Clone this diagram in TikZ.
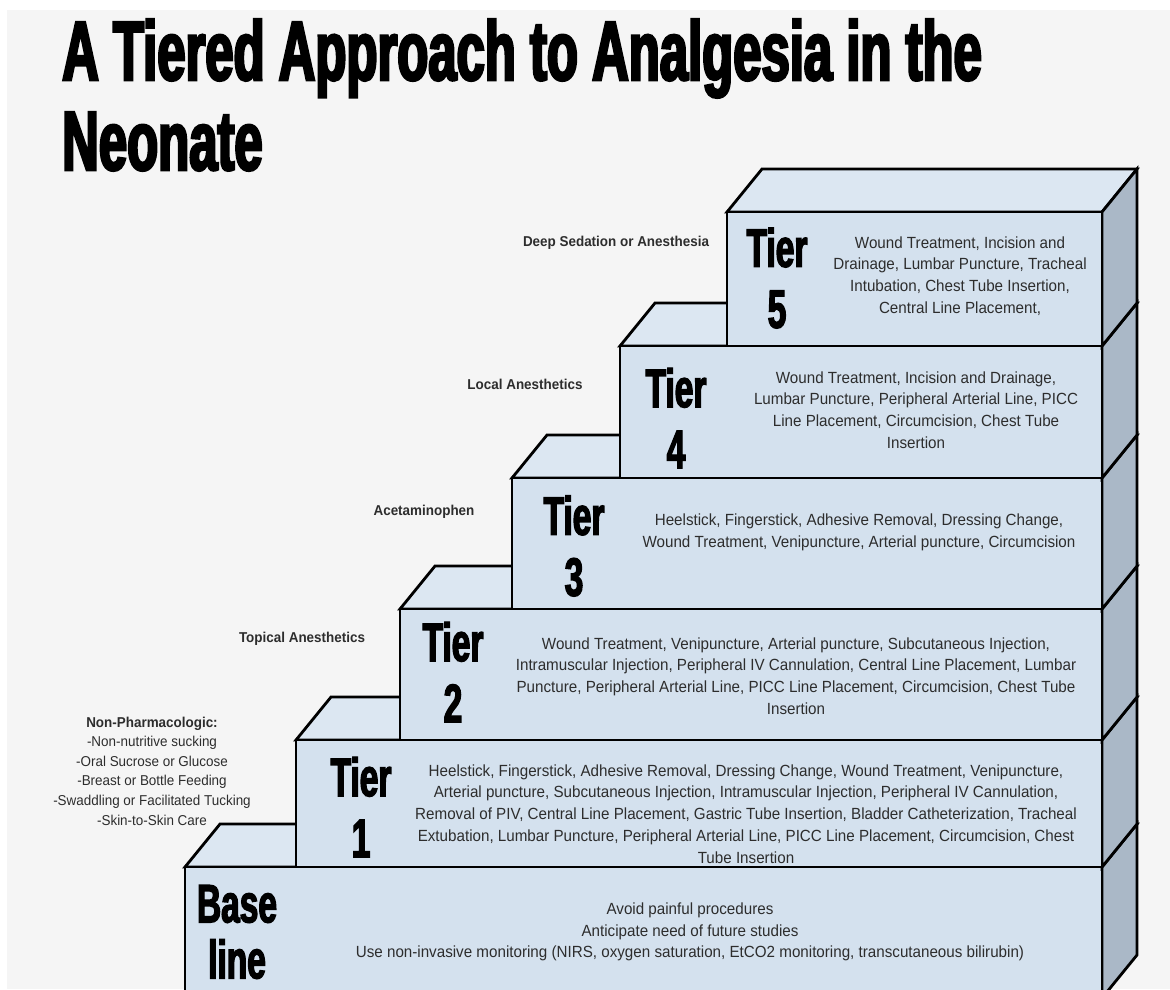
\documentclass[tikz,border=0pt]{standalone}
\usepackage{fontspec}
\setmainfont{Liberation Sans}
\newfontfamily\heavyfont[FakeStretch=0.62,BoldFeatures={FakeBold=2.5}]{Liberation Sans}
\newfontfamily\titlefont[FakeStretch=0.605,BoldFeatures={FakeBold=3}]{Liberation Sans}
\newfontfamily\bodyfont[FakeStretch=0.94]{Liberation Sans}
\definecolor{frontblue}{RGB}{212,225,238}
\definecolor{topblue}{RGB}{220,231,242}
\definecolor{sidegray}{RGB}{170,184,199}
\definecolor{bggray}{RGB}{245,245,245}
\definecolor{textgray}{RGB}{45,45,45}

\begin{document}
\begin{tikzpicture}[x=1pt,y=-1pt,
    blockline/.style={draw=black,line width=2.8pt},
    tiername/.style={font=\heavyfont\bfseries\fontsize{54}{61}\selectfont,align=center,inner sep=0pt},
    procs/.style={font=\bodyfont\fontsize{16.15}{21.8}\selectfont,text=textgray,align=center,inner sep=0pt},
    relief/.style={font=\bodyfont\fontsize{14.3}{19.6}\selectfont,text=textgray,align=center,inner sep=0pt}]
                \useasboundingbox (0,0) rectangle (1170,989);
                \clip (0,0) rectangle (1170,989);
                %background
                \fill[white] (0,0) rectangle (1170,989);
                \fill[bggray] (7,10) rectangle (1170,989);
                %title
                \node[anchor=base west,inner sep=0pt,font=\titlefont\bfseries\fontsize{84}{90}\selectfont]
                    (title) at (62,80) {A Tiered Approach to Analgesia in the};
                \node[anchor=base west,inner sep=0pt,font=\titlefont\bfseries\fontsize{84}{90}\selectfont]
                    (title2) at (62,170) {Neonate};
                %steps, lowest first
                \foreach \l/\t/\b in {185/867/998,296/740/867,400/609/740,512/478/609,620/346/478,727/212/346}{
                    \filldraw[blockline,fill=topblue] (\l,\t) -- ++(35,-43) -- (1137,{\t-43}) -- (1102,\t) -- cycle;
                    \filldraw[blockline,fill=sidegray] (1102,\t) -- (1137,{\t-43}) -- (1137,{\b-43}) -- (1102,\b) -- cycle;
                    \filldraw[blockline,fill=frontblue] (\l,\t) rectangle (1102,\b);
                }
                %tier names
                \node[tiername] (tier5) at (777,278) {Tier\\5};
                \node[tiername] (tier4) at (676,418) {Tier\\4};
                \node[tiername] (tier3) at (574,546) {Tier\\3};
                \node[tiername] (tier2) at (453,672) {Tier\\2};
                \node[tiername] (tier1) at (361,807) {Tier\\1};
                \node[tiername,font=\heavyfont\bfseries\fontsize{54}{56}\selectfont] (tier0) at (237,932) {Base\\line};
                %procedures
                \node[procs] (procs5) at (960,276) {Wound Treatment, Incision and\\Drainage, Lumbar Puncture, Tracheal\\Intubation, Chest Tube Insertion,\\Central Line Placement,};
                \node[procs] (procs4) at (916,410) {Wound Treatment, Incision and Drainage,\\Lumbar Puncture, Peripheral Arterial Line, PICC\\Line Placement, Circumcision, Chest Tube\\Insertion};
                \node[procs] (procs3) at (859,532) {Heelstick, Fingerstick, Adhesive Removal, Dressing Change,\\Wound Treatment, Venipuncture, Arterial puncture, Circumcision};
                \node[procs] (procs2) at (796,676) {Wound Treatment, Venipuncture, Arterial puncture, Subcutaneous Injection,\\Intramuscular Injection, Peripheral IV Cannulation, Central Line Placement, Lumbar\\Puncture, Peripheral Arterial Line, PICC Line Placement, Circumcision, Chest Tube\\Insertion};
                \node[procs] (procs1) at (746,814) {Heelstick, Fingerstick, Adhesive Removal, Dressing Change, Wound Treatment, Venipuncture,\\Arterial puncture, Subcutaneous Injection, Intramuscular Injection, Peripheral IV Cannulation,\\Removal of PIV, Central Line Placement, Gastric Tube Insertion, Bladder Catheterization, Tracheal\\Extubation, Lumbar Puncture, Peripheral Arterial Line, PICC Line Placement, Circumcision, Chest\\Tube Insertion};
                \node[procs] (procs0) at (690,932) {Avoid painful procedures\\Anticipate need of future studies\\Use non-invasive monitoring (NIRS, oxygen saturation, EtCO2 monitoring, transcutaneous bilirubin)};
                %relief methods
                \node[relief] (deep) at (616,243) {\bfseries Deep Sedation or Anesthesia};
                \node[relief] (local) at (525,384) {\bfseries Local Anesthetics};
                \node[relief] (acet) at (424,512) {\bfseries Acetaminophen};
                \node[relief] (topical) at (302,639) {\bfseries Topical Anesthetics};
                \node[relief] (nonpharm) at (152,771) {\textbf{Non-Pharmacologic:}\\-Non-nutritive sucking\\-Oral Sucrose or Glucose\\-Breast or Bottle Feeding\\-Swaddling or Facilitated Tucking\\-Skin-to-Skin Care};
            \end{tikzpicture}
\end{document}
